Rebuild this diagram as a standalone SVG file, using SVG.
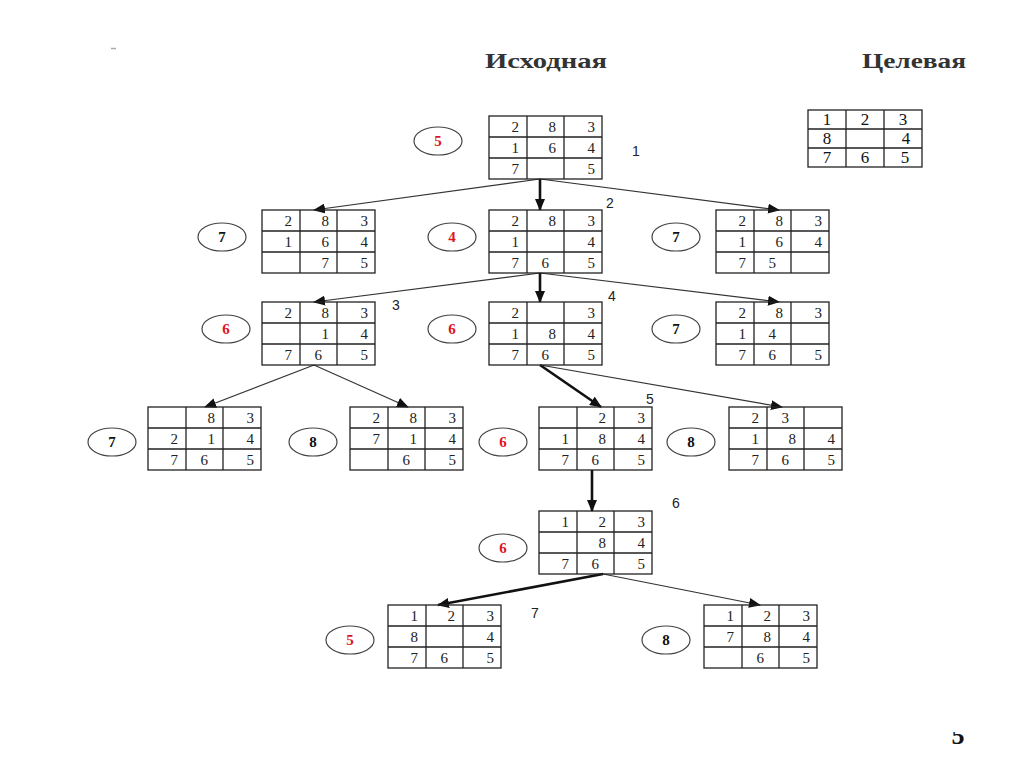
<svg xmlns="http://www.w3.org/2000/svg" xmlns:xlink="http://www.w3.org/1999/xlink" width="1024" height="767" viewBox="0 0 1024 767">
<style>
.g{fill:none;stroke:#222;stroke-width:1.3}
.d{font-family:"Liberation Serif",serif;font-size:15px;fill:#222;text-anchor:end}
.gd{font-family:"Liberation Serif",serif;font-size:17px;fill:#111;text-anchor:middle}
.c{fill:#fff;stroke:#444;stroke-width:1.2}
.cv{font-family:"Liberation Serif",serif;font-size:15px;font-weight:bold;text-anchor:middle;fill:#111}
.r{fill:#e0141e}
.s{font-family:"Liberation Sans",sans-serif;font-size:14px;fill:#222}
.h{font-family:"Liberation Serif",serif;font-size:21px;font-weight:bold;fill:#333}
.tn{stroke:#333;stroke-width:1.2;fill:none}
.tk{stroke:#111;stroke-width:2.6;fill:none}
</style>
<defs>
<g id="grid"><rect class="g" x="0" y="0" width="113" height="63"/><path class="g" d="M38 0V63M75 0V63M0 21H113M0 42H113"/></g>
<marker id="ah" markerUnits="userSpaceOnUse" markerWidth="12" markerHeight="10" viewBox="0 0 12 10" refX="11" refY="5" orient="auto"><path d="M0 0L12 5L0 10z" fill="#111"/></marker>
<clipPath id="pc"><rect x="930" y="732" width="60" height="30"/></clipPath>
</defs>
<rect width="1024" height="767" fill="#fff"/>
<path d="M111 48.5H116" stroke="#aaa" stroke-width="1.5"/>
<text class="h" x="485" y="68" textLength="122" lengthAdjust="spacingAndGlyphs">Исходная</text>
<text class="h" x="862" y="68" textLength="104" lengthAdjust="spacingAndGlyphs">Целевая</text>

<g id="goal">
<rect class="g" x="808" y="110" width="114" height="57" stroke-width="1.5"/>
<path class="g" d="M846 110V167M884 110V167M808 129H922M808 148H922" stroke-width="1.5"/>
<text class="gd" x="827" y="125">1</text><text class="gd" x="865" y="125">2</text><text class="gd" x="903" y="125">3</text>
<text class="gd" x="827" y="144">8</text><text class="gd" x="906" y="144">4</text>
<text class="gd" x="827" y="163">7</text><text class="gd" x="865" y="163">6</text><text class="gd" x="905" y="163">5</text>
</g>

<g id="connectors">
<path class="tn" d="M540 179L314 210" marker-end="url(#ah)"/>
<path class="tk" d="M540 179L540 210" marker-end="url(#ah)"/>
<path class="tn" d="M540 179L779 210" marker-end="url(#ah)"/>
<path class="tn" d="M540 273L314 302" marker-end="url(#ah)"/>
<path class="tk" d="M540 273L540 302" marker-end="url(#ah)"/>
<path class="tn" d="M540 273L779 302" marker-end="url(#ah)"/>
<path class="tn" d="M314 365L205 407" marker-end="url(#ah)"/>
<path class="tn" d="M314 365L408 407" marker-end="url(#ah)"/>
<path class="tk" d="M540 365L601 407" marker-end="url(#ah)"/>
<path class="tn" d="M540 365L782 407" marker-end="url(#ah)"/>
<path class="tk" d="M592 470L592 511" marker-end="url(#ah)"/>
<path class="tk" d="M603 574L438 605" marker-end="url(#ah)"/>
<path class="tn" d="M603 574L760 605" marker-end="url(#ah)"/>
</g>

<g id="n1">
<use xlink:href="#grid" x="489" y="116"/>
<g transform="translate(489,116)"><text class="d" x="30" y="16">2</text><text class="d" x="67" y="16">8</text><text class="d" x="106" y="16">3</text><text class="d" x="30" y="37">1</text><text class="d" x="67" y="37">6</text><text class="d" x="106" y="37">4</text><text class="d" x="30" y="58">7</text><text class="d" x="106" y="58">5</text></g>
<ellipse class="c" cx="438" cy="141" rx="24" ry="14"/><text class="cv r" x="438" y="146">5</text>
<text class="s" x="632" y="156">1</text>
</g>

<g id="n2a">
<use xlink:href="#grid" x="262" y="210"/>
<g transform="translate(262,210)"><text class="d" x="30" y="16">2</text><text class="d" x="67" y="16">8</text><text class="d" x="106" y="16">3</text><text class="d" x="30" y="37">1</text><text class="d" x="67" y="37">6</text><text class="d" x="106" y="37">4</text><text class="d" x="67" y="58">7</text><text class="d" x="106" y="58">5</text></g>
<ellipse class="c" cx="222" cy="237" rx="24" ry="14"/><text class="cv" x="222" y="242">7</text>
</g>

<g id="n2b">
<use xlink:href="#grid" x="489" y="210"/>
<g transform="translate(489,210)"><text class="d" x="30" y="16">2</text><text class="d" x="67" y="16">8</text><text class="d" x="106" y="16">3</text><text class="d" x="30" y="37">1</text><text class="d" x="106" y="37">4</text><text class="d" x="30" y="58">7</text><text class="d" x="60" y="58">6</text><text class="d" x="106" y="58">5</text></g>
<ellipse class="c" cx="452" cy="237" rx="24" ry="14"/><text class="cv r" x="452" y="242">4</text>
<text class="s" x="606" y="208">2</text>
</g>

<g id="n2c">
<use xlink:href="#grid" x="716" y="210"/>
<g transform="translate(716,210)"><text class="d" x="30" y="16">2</text><text class="d" x="67" y="16">8</text><text class="d" x="106" y="16">3</text><text class="d" x="30" y="37">1</text><text class="d" x="67" y="37">6</text><text class="d" x="106" y="37">4</text><text class="d" x="30" y="58">7</text><text class="d" x="60" y="58">5</text></g>
<ellipse class="c" cx="676" cy="237" rx="24" ry="14"/><text class="cv" x="676" y="242">7</text>
</g>

<g id="n3a">
<use xlink:href="#grid" x="262" y="302"/>
<g transform="translate(262,302)"><text class="d" x="30" y="16">2</text><text class="d" x="67" y="16">8</text><text class="d" x="106" y="16">3</text><text class="d" x="67" y="37">1</text><text class="d" x="106" y="37">4</text><text class="d" x="30" y="58">7</text><text class="d" x="60" y="58">6</text><text class="d" x="106" y="58">5</text></g>
<ellipse class="c" cx="226" cy="329" rx="24" ry="14"/><text class="cv r" x="226" y="334">6</text>
<text class="s" x="392" y="310">3</text>
</g>

<g id="n3b">
<use xlink:href="#grid" x="489" y="302"/>
<g transform="translate(489,302)"><text class="d" x="30" y="16">2</text><text class="d" x="106" y="16">3</text><text class="d" x="30" y="37">1</text><text class="d" x="67" y="37">8</text><text class="d" x="106" y="37">4</text><text class="d" x="30" y="58">7</text><text class="d" x="60" y="58">6</text><text class="d" x="106" y="58">5</text></g>
<ellipse class="c" cx="452" cy="329" rx="24" ry="14"/><text class="cv r" x="452" y="334">6</text>
<text class="s" x="608" y="301">4</text>
</g>

<g id="n3c">
<use xlink:href="#grid" x="716" y="302"/>
<g transform="translate(716,302)"><text class="d" x="30" y="16">2</text><text class="d" x="67" y="16">8</text><text class="d" x="106" y="16">3</text><text class="d" x="30" y="37">1</text><text class="d" x="60" y="37">4</text><text class="d" x="30" y="58">7</text><text class="d" x="60" y="58">6</text><text class="d" x="106" y="58">5</text></g>
<ellipse class="c" cx="676" cy="329" rx="24" ry="14"/><text class="cv" x="676" y="334">7</text>
</g>

<g id="n4a">
<use xlink:href="#grid" x="148" y="407"/>
<g transform="translate(148,407)"><text class="d" x="67" y="16">8</text><text class="d" x="106" y="16">3</text><text class="d" x="30" y="37">2</text><text class="d" x="67" y="37">1</text><text class="d" x="106" y="37">4</text><text class="d" x="30" y="58">7</text><text class="d" x="60" y="58">6</text><text class="d" x="106" y="58">5</text></g>
<ellipse class="c" cx="112" cy="442" rx="24" ry="14"/><text class="cv" x="112" y="447">7</text>
</g>

<g id="n4b">
<use xlink:href="#grid" x="350" y="407"/>
<g transform="translate(350,407)"><text class="d" x="30" y="16">2</text><text class="d" x="67" y="16">8</text><text class="d" x="106" y="16">3</text><text class="d" x="30" y="37">7</text><text class="d" x="67" y="37">1</text><text class="d" x="106" y="37">4</text><text class="d" x="60" y="58">6</text><text class="d" x="106" y="58">5</text></g>
<ellipse class="c" cx="313" cy="442" rx="24" ry="14"/><text class="cv" x="313" y="447">8</text>
</g>

<g id="n4c">
<use xlink:href="#grid" x="539" y="407"/>
<g transform="translate(539,407)"><text class="d" x="67" y="16">2</text><text class="d" x="106" y="16">3</text><text class="d" x="30" y="37">1</text><text class="d" x="67" y="37">8</text><text class="d" x="106" y="37">4</text><text class="d" x="30" y="58">7</text><text class="d" x="60" y="58">6</text><text class="d" x="106" y="58">5</text></g>
<ellipse class="c" cx="503" cy="442" rx="24" ry="14"/><text class="cv r" x="503" y="447">6</text>
<text class="s" x="646" y="404">5</text>
</g>

<g id="n4d">
<use xlink:href="#grid" x="729" y="407"/>
<g transform="translate(729,407)"><text class="d" x="30" y="16">2</text><text class="d" x="60" y="16">3</text><text class="d" x="30" y="37">1</text><text class="d" x="67" y="37">8</text><text class="d" x="106" y="37">4</text><text class="d" x="30" y="58">7</text><text class="d" x="60" y="58">6</text><text class="d" x="106" y="58">5</text></g>
<ellipse class="c" cx="691" cy="442" rx="24" ry="14"/><text class="cv" x="691" y="447">8</text>
</g>

<g id="n6">
<use xlink:href="#grid" x="539" y="511"/>
<g transform="translate(539,511)"><text class="d" x="30" y="16">1</text><text class="d" x="67" y="16">2</text><text class="d" x="106" y="16">3</text><text class="d" x="67" y="37">8</text><text class="d" x="106" y="37">4</text><text class="d" x="30" y="58">7</text><text class="d" x="60" y="58">6</text><text class="d" x="106" y="58">5</text></g>
<ellipse class="c" cx="503" cy="548" rx="24" ry="14"/><text class="cv r" x="503" y="553">6</text>
<text class="s" x="672" y="508">6</text>
</g>

<g id="n7a">
<use xlink:href="#grid" x="388" y="605"/>
<g transform="translate(388,605)"><text class="d" x="30" y="16">1</text><text class="d" x="67" y="16">2</text><text class="d" x="106" y="16">3</text><text class="d" x="30" y="37">8</text><text class="d" x="106" y="37">4</text><text class="d" x="30" y="58">7</text><text class="d" x="60" y="58">6</text><text class="d" x="106" y="58">5</text></g>
<ellipse class="c" cx="350" cy="640" rx="24" ry="14"/><text class="cv r" x="350" y="645">5</text>
<text class="s" x="531" y="618">7</text>
</g>

<g id="n7b">
<use xlink:href="#grid" x="704" y="605"/>
<g transform="translate(704,605)"><text class="d" x="30" y="16">1</text><text class="d" x="67" y="16">2</text><text class="d" x="106" y="16">3</text><text class="d" x="30" y="37">7</text><text class="d" x="67" y="37">8</text><text class="d" x="106" y="37">4</text><text class="d" x="60" y="58">6</text><text class="d" x="106" y="58">5</text></g>
<ellipse class="c" cx="666" cy="640" rx="24" ry="14"/><text class="cv" x="666" y="645">8</text>
</g>

<text x="958" y="744" clip-path="url(#pc)" font-family="Liberation Serif,serif" font-size="26" font-weight="bold" text-anchor="middle" fill="#111">5</text>
</svg>
